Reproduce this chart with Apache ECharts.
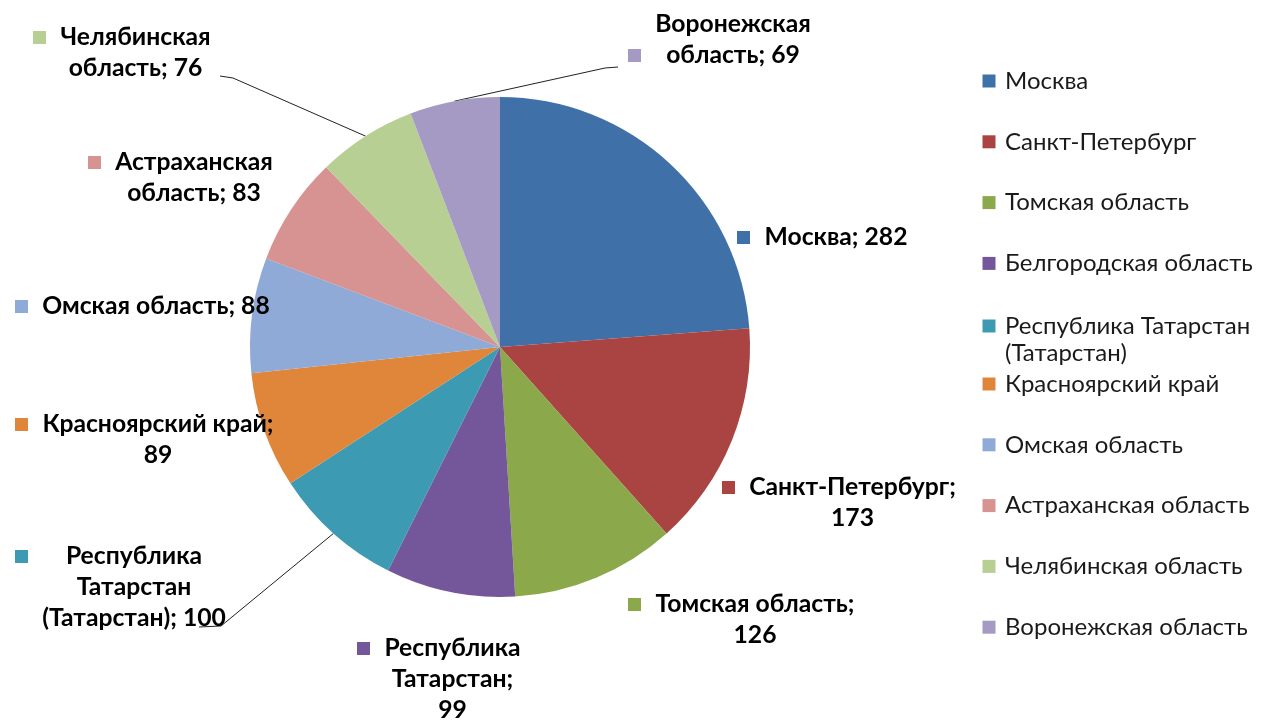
<!DOCTYPE html>
<html><head><meta charset="utf-8">
<script src="https://cdn.jsdelivr.net/npm/echarts@6/dist/echarts.min.js"></script>
<style>html,body{margin:0;padding:0;background:#fff}#c{width:1261px;height:724px}</style>
</head><body><div id="c"></div>
<script>
const categories = ['Москва','Санкт-Петербург','Томская область','Белгородская область','Республика Татарстан (Татарстан)','Красноярский край','Омская область','Астраханская область','Челябинская область','Воронежская область'];
const values = [282,173,126,99,100,89,88,83,76,69];
// label texts as printed on the slices (the purple slice label reads "Республика Татарстан")
const labelNames = ['Москва','Санкт-Петербург','Томская область','Республика Татарстан','Республика Татарстан (Татарстан)','Красноярский край','Омская область','Астраханская область','Челябинская область','Воронежская область'];
const labelWordsPerLine = [[2],[1,1],[2,1],[1,1,1],[1,1,2],[2,1],[3],[1,2],[1,2],[1,2]];
const markerLine = [0,0,0,0,0,0,0,0,0,1];
const leaderLine = [false,false,false,false,true,false,false,false,true,true];

const colors = ['#3f71a8','#aa4442','#8ba84b','#73579a','#3c9bb3','#e0863a','#8faad6','#d69391','#b7cf93','#a59ac4'];
const labelPos = [[737,222],[722,472],[628,589],[357,633],[15,541],[15,409],[15,291],[88,147],[33,22],[628,9]];
// leader line anchor relative to the moved label box: side ('l'|'r'), bend offset, end offset (from bottom)
const leaderStyle = {4: {side: 'r', bend: [-6, -8], end: [-28, -7]}, 8: {side: 'r', bend: [21, -6], end: [8, -8]}, 9: {side: 'l', bend: [-23, -3], end: [-10, -4]}};
const LF = {family:'Lato', size:24.7, lh:31};

const cv = document.createElement('canvas').getContext('2d');
cv.font = 'bold ' + LF.size + 'px ' + LF.family;
const measure = s => cv.measureText(s).width;
const labelW = [];
const labelH = [];

function buildLabel(i){
  const words = (labelNames[i] + '; ' + values[i]).split(' ');
  const lines = []; let k = 0;
  for (const n of labelWordsPerLine[i]) { lines.push(words.slice(k, k + n).join(' ')); k += n; }
  const W = Math.ceil(Math.max(...lines.map(measure))) + 2;
  labelW[i] = W + 26; labelH[i] = lines.length * LF.lh;
  const str = lines.map((ln, j) => (j === markerLine[i] ? '{sq|}{gap|}' : '{sp|}') + '{t|' + ln + '}').join('\n');
  return {
    formatter: str,
    rich: {
      sq: {width: 13, height: 13, backgroundColor: colors[i]},
      gap: {width: 13},
      sp: {width: 26},
      t: {width: W, align: 'center', fontFamily: LF.family, fontSize: LF.size, fontWeight: 'bold', color: '#000', lineHeight: LF.lh}
    }
  };
}

const data = categories.map((name, i) => ({
  name, value: values[i],
  itemStyle: {color: colors[i]},
  label: buildLabel(i),
  labelLine: {show: leaderLine[i]}
}));

const legendText = {fontFamily: 'Lato', fontSize: 24, color: '#1a1a1a', lineHeight: 26};
const legendBase = {
  orient: 'vertical', left: 982.5, itemGap: 34.8, itemWidth: 22, itemHeight: 13,
  icon: 'path://M0,0H10V10H0Z', selectedMode: false, padding: 0, textStyle: legendText
};

function layoutLabel(p){
  const i = p.dataIndex;
  const x = labelPos[i][0], y = labelPos[i][1];
  const out = {x, y, align: 'left', verticalAlign: 'top'};
  const ls = leaderStyle[i];
  if (ls && p.labelLinePoints && p.labelLinePoints.length) {
    const edge = [p.labelLinePoints[0][0], p.labelLinePoints[0][1]];
    const bx = ls.side === 'r' ? x + labelW[i] : x;
    const by = y + labelH[i];
    out.labelLinePoints = [edge, [bx + ls.bend[0], by + ls.bend[1]], [bx + ls.end[0], by + ls.end[1]]];
  }
  return out;
}

const chart = echarts.init(document.getElementById('c'), null, {renderer: 'canvas'});
chart.setOption({
  animation: false,
  backgroundColor: '#fff',
  legend: [
    Object.assign({}, legendBase, {top: 68, data: categories.slice(0, 4)}),
    Object.assign({}, legendBase, {top: 285.5, data: categories.slice(4, 5),
      textStyle: Object.assign({}, legendText, {lineHeight: 27}),
      formatter: () => ' \nРеспублика Татарстан\n(Татарстан)'}),
    Object.assign({}, legendBase, {top: 371, data: categories.slice(5)})
  ],
  series: [{
    type: 'pie',
    center: [500, 347],
    radius: 250,
    startAngle: 90,
    clockwise: true,
    avoidLabelOverlap: false,
    itemStyle: {borderWidth: 0},
    label: {show: true, position: 'outside'},
    labelLine: {show: false, length: 12, length2: 12, smooth: false, lineStyle: {color: '#222', width: 1}},
    labelLayout: layoutLabel,
    emphasis: {disabled: true},
    data
  }]
});
</script></body></html>
